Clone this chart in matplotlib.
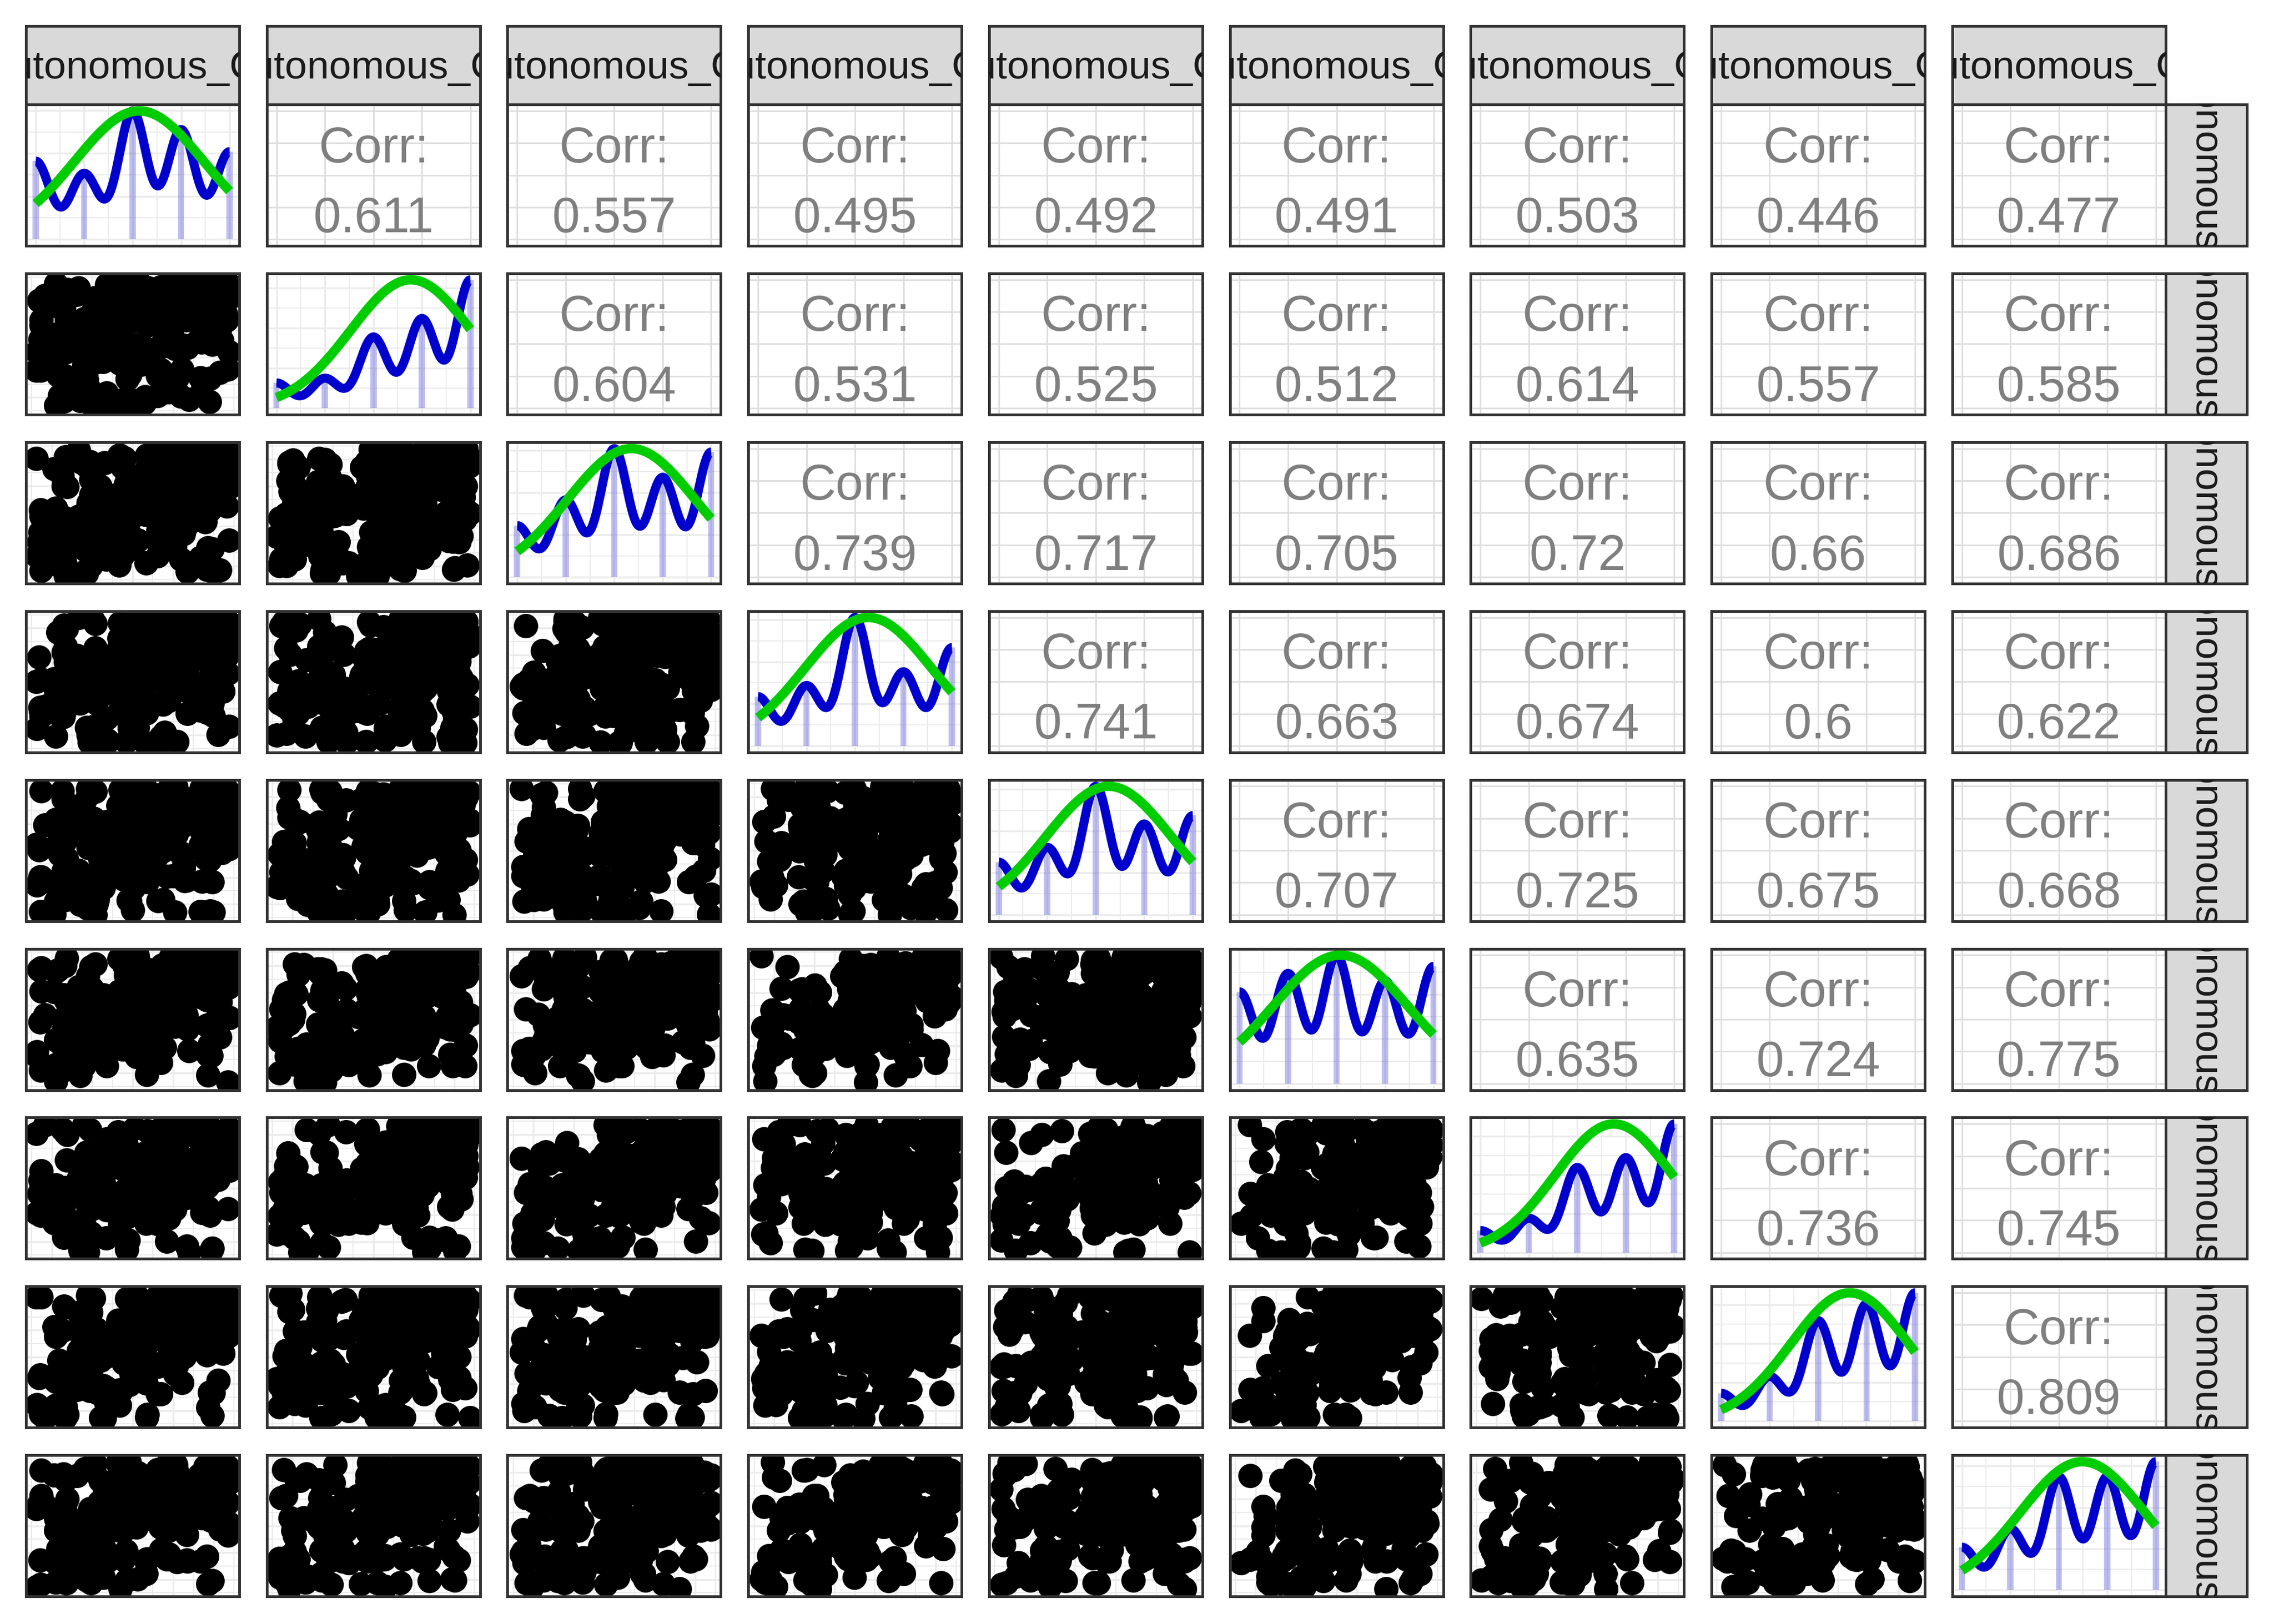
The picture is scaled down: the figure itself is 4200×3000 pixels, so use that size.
import numpy as np
import matplotlib.pyplot as plt

plt.rcParams['font.family'] = ['Liberation Sans', 'DejaVu Sans']

# ---- data -------------------------------------------------------------
var_names = ["Autonomous_C%d" % i for i in range(1, 10)]
levels = [1, 2, 3, 4, 5]

# answers per level (1..5) for each item
level_counts = [
    [25, 21, 41, 35, 28],
    [11, 13, 31, 39, 56],
    [16, 24, 40, 31, 39],
    [18, 22, 47, 27, 36],
    [18, 23, 44, 31, 34],
    [25, 30, 35, 28, 32],
    [9, 14, 35, 39, 53],
    [10, 16, 36, 42, 46],
    [14, 20, 37, 37, 42],
]

# upper triangle, row i holds corr(item i, item j) for j > i
corr_values = [
    [0.611, 0.557, 0.495, 0.492, 0.491, 0.503, 0.446, 0.477],
    [0.604, 0.531, 0.525, 0.512, 0.614, 0.557, 0.585],
    [0.739, 0.717, 0.705, 0.72, 0.66, 0.686],
    [0.741, 0.663, 0.674, 0.6, 0.622],
    [0.707, 0.725, 0.675, 0.668],
    [0.635, 0.724, 0.775],
    [0.736, 0.745],
    [0.809],
]

# one string per respondent, one digit per item (estimated, the
# scatter panels are too crowded to read single answers)
responses = [
    "112121311", "211132121", "121211212", "131212311", "212123121", "111231212",
    "221112131", "123211211", "112212321", "211321112", "131122211", "212211131",
    "223212232", "132223322", "221322143", "312232223", "223123322",
    "142232232", "213322321", "232213243", "321232322", "222342223",
    "213223232", "232132332", "124223322", "322232213", "231323242",
    "223412323", "312223232", "222323312", "133232223", "221242322",
    "333343334", "243334343", "324333433", "432423343", "334343234",
    "343332443", "233433334", "423343353", "342334343", "335342433",
    "433324344", "324434243", "243343433", "353423344", "432333435",
    "334243334", "423443325", "343342434", "234434433", "433353342",
    "352323344", "314433353", "243334243", "332443435", "424333323",
    "343532344", "432343443", "235324353", "253433434", "343343245",
    "423234344", "334452343", "342433325", "433324353", "324343245",
    "343433424", "442323334", "233443445", "234343352", "313424434",
    "444434444", "354445445", "435443454", "544354435", "345544443",
    "454435554", "443544345", "534454444", "445345453", "354453544",
    "444544435", "535444354", "344454545", "453535444", "445443355",
    "354544454", "543445445", "434554354", "455443544", "344355445",
    "445544344", "534435455", "453454435", "354545444", "445354554",
    "444445343", "355544445", "443453554", "535434445", "454544354",
    "345445544", "444354455", "554443445", "435545354", "344454454",
    "543545445", "454354544", "445445355", "354554454", "445443545",
    "555555555", "455555545", "545554555", "554545555", "555455455",
    "455545555", "554555545", "545555455", "555545554", "454555555",
    "555554545", "545455555", "555555445", "455555554", "554545455",
    "545554555", "555455545", "455545555", "554555454", "555545555",
    "445555555", "555454555", "545555544", "555555455", "354555555",
    "555545545", "455555555", "545545555", "555455554", "554555555",
    "455554555", "545555545", "555545455", "555555555", "454555545",
    "555455555", "545555555", "555554555",
    "314253421", "452134352", "235413524", "143524153", "524315243",
    "341252435", "253141524", "415325142", "132453215", "541234352",
    "225314453", "354125241", "413542135", "152435324", "531243415",
    "243351542", "324514253", "452213534", "135442312", "514325243",
    "342153425", "253524132", "421335254", "134252543", "543214325",
    "215343452", "352415134", "423152543", "141325354", "532441213",
    "254132345", "315254421", "442513235", "123545342", "551342134",
    "234415253", "345251412", "412534325", "153243514", "521352443",
    "243524135", "334152542", "415243253", "142535421", "523314354",
    "252441325", "351325443", "424153532", "135314245", "542423151",
    "214535343", "353142425", "431254352", "154323514", "525341243",
    "242453152", "313524435", "445132523", "131445254", "534252341",
    "225153434", "342514253", "453325142", "124434525", "551243332",
    "235342514", "324455231", "411523354", "143254425", "532135443",
    "253414325", "345223514", "422541353", "152345243", "513432525",
    "241355432", "354243151", "432514245", "125332554", "544153323",
]

# ---- layout (pixels on a 4200 x 3000 canvas) ---------------------------
W, H = 4200, 3000
X0, DX, PW = 48, 444.7, 394
Y0, DY, PH = 193, 311.9, 261
STRIP_TOP, STRIP_H, STRIP_W = 48, 145, 150
BW = 0.29  # bandwidth of the blue density line
BORDER = '#333333'

fig = plt.figure(figsize=(14, 10), dpi=300)


def add_box(x, y, w, h):
    return fig.add_axes([x / W, 1 - (y + h) / H, w / W, h / H])


def style_panel(ax, face='white'):
    ax.set_facecolor(face)
    for s in ax.spines.values():
        s.set_color(BORDER)
        s.set_linewidth(1.2)
    ax.tick_params(which='both', length=0, labelbottom=False, labelleft=False)
    ax.set_axisbelow(True)


pts = np.array([[int(ch) for ch in row] for row in responses], float)
# geom_jitter style offsets (width = height = 0.4)
rng = np.random.default_rng(7)
jit_x = rng.uniform(-0.4, 0.4, pts.shape)
jit_y = rng.uniform(-0.4, 0.4, pts.shape)

lv = np.array(levels, float)
xs = np.linspace(1, 5, 512)
nvar = len(var_names)

for r in range(nvar):
    for c in range(nvar):
        ax = add_box(X0 + c * DX, Y0 + r * DY, PW, PH)
        style_panel(ax)
        if r == c:
            cnt = np.array(level_counts[r], float)
            n = cnt.sum()
            mean = (cnt * lv).sum() / n
            sd = np.sqrt((cnt * (lv - mean) ** 2).sum() / (n - 1))
            green = np.exp(-0.5 * ((xs - mean) / sd) ** 2) / (sd * np.sqrt(2 * np.pi))
            top = green.max()
            kde = (cnt[:, None] * np.exp(-0.5 * ((xs[None, :] - lv[:, None]) / BW) ** 2)).sum(0)
            blue = kde / kde.max() * top
            bars = cnt / cnt.max() * top
            ax.bar(lv, bars, width=0.13, color=(0, 0, 0.804, 0.25), lw=0, zorder=2)
            ax.plot(xs, blue, color='#0000CD', lw=4.0, solid_capstyle='butt', zorder=3)
            ax.plot(xs, green, color='#00CD00', lw=4.2, solid_capstyle='butt', zorder=4)
            ax.set_xlim(0.8, 5.2)
            ax.set_ylim(-0.05 * top, 1.05 * top)
            ax.set_xticks(levels)
            ax.set_xticks([1.5, 2.5, 3.5, 4.5], minor=True)
            ax.set_yticks(np.arange(0, top * 1.05, 0.1))
            ax.set_yticks(np.arange(0.05, top * 1.05, 0.1), minor=True)
            ax.grid(which='major', color='#EBEBEB', lw=0.8)
            ax.grid(which='minor', color='#EBEBEB', lw=0.5)
        elif r > c:
            ax.plot(pts[:, c] + jit_x[:, c], pts[:, r] + jit_y[:, r], 'o',
                    ms=10.8, color='black', mew=0)
            ax.set_xlim(0.36, 5.64)
            ax.set_ylim(0.36, 5.64)
            ax.set_xticks(levels)
            ax.set_yticks(levels)
            ax.set_xticks(np.arange(0.5, 6, 1), minor=True)
            ax.set_yticks(np.arange(0.5, 6, 1), minor=True)
            ax.grid(which='major', color='#EBEBEB', lw=0.8)
            ax.grid(which='minor', color='#EBEBEB', lw=0.5)
        else:
            ax.set_xlim(0.8, 5.2)
            ax.set_ylim(0.8, 5.2)
            ax.set_xticks(levels)
            ax.set_yticks(levels)
            ax.grid(which='major', color='#DEDEDE', lw=0.7)
            v = corr_values[r][c - r - 1]
            ax.text(0.5, 0.72, 'Corr:', transform=ax.transAxes, ha='center',
                    va='center_baseline', fontsize=22, color='#7F7F7F')
            ax.text(0.5, 0.225, f'{v:g}', transform=ax.transAxes, ha='center',
                    va='center_baseline', fontsize=22, color='#7F7F7F')

# top strips
for c in range(nvar):
    ax = add_box(X0 + c * DX, STRIP_TOP, PW, STRIP_H)
    style_panel(ax, '#D9D9D9')
    ax.text(0.5, 0.46, var_names[c], transform=ax.transAxes, ha='center',
            va='center', fontsize=17.6, color='#1A1A1A', clip_on=True)

# right strips
for r in range(nvar):
    ax = add_box(X0 + (nvar - 1) * DX + PW, Y0 + r * DY, STRIP_W, PH)
    style_panel(ax, '#D9D9D9')
    ax.text(0.5, 0.5, var_names[r], transform=ax.transAxes, ha='center',
            va='center', rotation=-90, fontsize=17.6, color='#1A1A1A', clip_on=True)

fig.savefig('out.png', dpi=300)
